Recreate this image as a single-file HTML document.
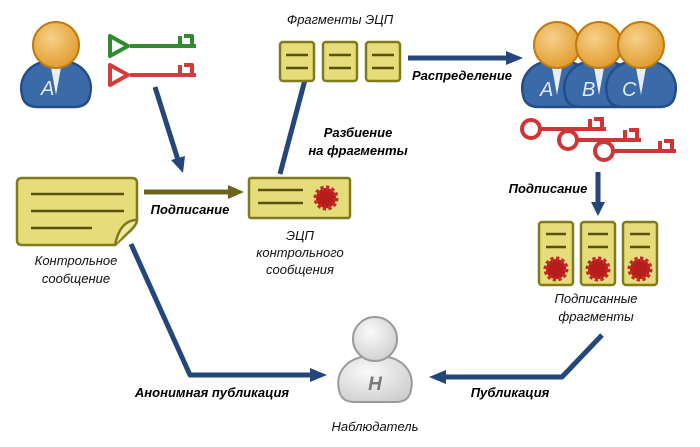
<!DOCTYPE html>
<html><head><meta charset="utf-8"><style>
html,body{margin:0;padding:0;background:#fff}
svg{display:block}
text{font-family:"Liberation Sans","DejaVu Sans",sans-serif;font-size:13px;font-style:italic;fill:#111}
.b{font-weight:bold;fill:#000}
</style></head><body>
<svg width="700" height="447" viewBox="0 0 700 447" xmlns="http://www.w3.org/2000/svg">
<defs>
<radialGradient id="hg" cx="0.4" cy="0.35" r="0.7"><stop offset="0" stop-color="#f7d08a"/><stop offset="1" stop-color="#e09a2a"/></radialGradient>
<radialGradient id="gg" cx="0.4" cy="0.35" r="0.7"><stop offset="0" stop-color="#fafafa"/><stop offset="1" stop-color="#cfcfcf"/></radialGradient>
<g id="person">
<path d="M-34,50 C-38,32 -26,17 -6,16 L6,16 C26,17 38,32 34,50 Q32,62 18,62 L-18,62 Q-32,62 -34,50 Z" fill="#3a6aa8" stroke="#234e8a" stroke-width="2.5"/>
<path d="M-6,17 L0,50 L6,17 Z" fill="#e8eef5"/>
<circle cx="0" cy="0" r="23" fill="url(#hg)" stroke="#c07a10" stroke-width="2"/>
</g>
<g id="seal"><circle r="10" fill="#b71c1c" stroke="#c62828" stroke-width="5" stroke-dasharray="3 2.2"/></g>
</defs>

<use href="#person" x="56" y="45"/>
<text x="41" y="95" style="font-size:20px;fill:#dfe8f3">A</text>
<g stroke="#2e8b2e" stroke-width="4" fill="none" stroke-linejoin="round">
<path d="M110,36 Q110,36 128,46 L110,56 Z"/><path d="M130,46 L196,46 M180,46 V36 M184,36 H192 V46"/>
</g>
<g stroke="#d23c3c" stroke-width="4" fill="none" stroke-linejoin="round">
<path d="M110,65 L128,75 L110,85 Z"/><path d="M130,75 L196,75 M180,75 V65 M184,65 H192 V75"/>
</g>

<use href="#person" x="557" y="45"/>
<use href="#person" x="599" y="45"/>
<use href="#person" x="641" y="45"/>
<text x="540" y="96" style="font-size:20px;fill:#dfe8f3">A</text>
<text x="582" y="96" style="font-size:20px;fill:#dfe8f3">B</text>
<text x="622" y="96" style="font-size:20px;fill:#dfe8f3">C</text>
<g stroke="#cf3535" stroke-width="4" fill="none">
<circle cx="531" cy="129" r="9"/><path d="M540,129 H606 M590,129 V119 M594,119 H602 V129"/>
<circle cx="568" cy="140" r="9"/><path d="M577,140 H641 M625,140 V130 M629,130 H637 V140"/>
<circle cx="604" cy="151" r="9"/><path d="M613,151 H676 M660,151 V141 M664,141 H672 V151"/>
</g>

<path d="M22,178 H132 Q137,178 137,183 V220 Q137,225 128,233 L115,245 H22 Q17,245 17,240 V183 Q17,178 22,178 Z" fill="#e6dc7a" stroke="#7f7a1e" stroke-width="2.5"/>
<path d="M137,220 Q120,220 115,245" fill="#efe8a0" stroke="#7f7a1e" stroke-width="2.5"/>
<g stroke="#5a5010" stroke-width="2.5"><line x1="31" y1="194" x2="124" y2="194"/><line x1="31" y1="211" x2="124" y2="211"/><line x1="31" y1="228" x2="92" y2="228"/></g>
<text x="76" y="265" text-anchor="middle">Контрольное</text>
<text x="76" y="283" text-anchor="middle">сообщение</text>

<line x1="144" y1="192" x2="230" y2="192" stroke="#6b6420" stroke-width="5"/>
<path d="M228,185 L244,192 L228,199 Z" fill="#6b6420"/>
<text x="190" y="214" text-anchor="middle" class="b">Подписание</text>

<rect x="249" y="178" width="101" height="40" rx="2" fill="#e6dc7a" stroke="#7f7a1e" stroke-width="2.5"/>
<g stroke="#5a5010" stroke-width="2.5"><line x1="258" y1="190" x2="303" y2="190"/><line x1="258" y1="203" x2="303" y2="203"/></g>
<use href="#seal" x="326" y="198"/>
<text x="300" y="240" text-anchor="middle">ЭЦП</text>
<text x="300" y="257" text-anchor="middle">контрольного</text>
<text x="300" y="274" text-anchor="middle">сообщения</text>

<g stroke="#24467a" stroke-width="5" fill="none" stroke-linejoin="round">
<line x1="155" y1="87" x2="178" y2="160"/>
<line x1="280" y1="174" x2="306" y2="76"/>
<line x1="408" y1="58" x2="508" y2="58"/>
<line x1="598" y1="172" x2="598" y2="203"/>
<polyline points="131,244 190,375 312,375"/>
<polyline points="602,335 562,377 444,377"/>
</g>
<g fill="#24467a">
<path d="M171,160 L183,173 L185,156 Z"/>
<path d="M299,76 L310,61 L313,79 Z"/>
<path d="M506,51 L523,58 L506,65 Z"/>
<path d="M591,202 L598,216 L605,202 Z"/>
<path d="M310,368 L327,375 L310,382 Z"/>
<path d="M446,370 L429,377 L446,384 Z"/>
</g>
<text x="358" y="137" text-anchor="middle" class="b">Разбиение</text>
<text x="358" y="155" text-anchor="middle" class="b">на фрагменты</text>
<text x="340" y="24" text-anchor="middle">Фрагменты ЭЦП</text>
<text x="462" y="80" text-anchor="middle" class="b">Распределение</text>
<text x="548" y="193" text-anchor="middle" class="b">Подписание</text>
<text x="212" y="397" text-anchor="middle" class="b">Анонимная публикация</text>
<text x="510" y="397" text-anchor="middle" class="b">Публикация</text>

<g fill="#e6dc7a" stroke="#7f7a1e" stroke-width="2.5">
<rect x="280" y="42" width="34" height="39" rx="3"/><rect x="323" y="42" width="34" height="39" rx="3"/><rect x="366" y="42" width="34" height="39" rx="3"/>
</g>
<g stroke="#5a5010" stroke-width="2.5">
<line x1="286" y1="55" x2="308" y2="55"/><line x1="286" y1="68" x2="308" y2="68"/>
<line x1="329" y1="55" x2="351" y2="55"/><line x1="329" y1="68" x2="351" y2="68"/>
<line x1="372" y1="55" x2="394" y2="55"/><line x1="372" y1="68" x2="394" y2="68"/>
</g>

<g fill="#e6dc7a" stroke="#7f7a1e" stroke-width="2.5">
<rect x="539" y="222" width="34" height="63" rx="3"/><rect x="581" y="222" width="34" height="63" rx="3"/><rect x="623" y="222" width="34" height="63" rx="3"/>
</g>
<g stroke="#5a5010" stroke-width="2.5">
<line x1="546" y1="234" x2="566" y2="234"/><line x1="546" y1="247" x2="566" y2="247"/>
<line x1="588" y1="234" x2="608" y2="234"/><line x1="588" y1="247" x2="608" y2="247"/>
<line x1="630" y1="234" x2="650" y2="234"/><line x1="630" y1="247" x2="650" y2="247"/>
</g>
<use href="#seal" x="556" y="269"/><use href="#seal" x="598" y="269"/><use href="#seal" x="640" y="269"/>
<text x="596" y="303" text-anchor="middle">Подписанные</text>
<text x="596" y="321" text-anchor="middle">фрагменты</text>

<path d="M339,390 C335,372 347,358 368,356 L382,356 C403,358 415,372 411,390 Q409,402 396,402 L354,402 Q341,402 339,390 Z" fill="url(#gg)" stroke="#9a9a9a" stroke-width="2"/>
<circle cx="375" cy="339" r="22" fill="url(#gg)" stroke="#9a9a9a" stroke-width="2"/>
<text x="375" y="390" text-anchor="middle" style="font-size:19px;font-weight:bold;fill:#777">Н</text>
<text x="375" y="431" text-anchor="middle">Наблюдатель</text>
</svg>
</body></html>
